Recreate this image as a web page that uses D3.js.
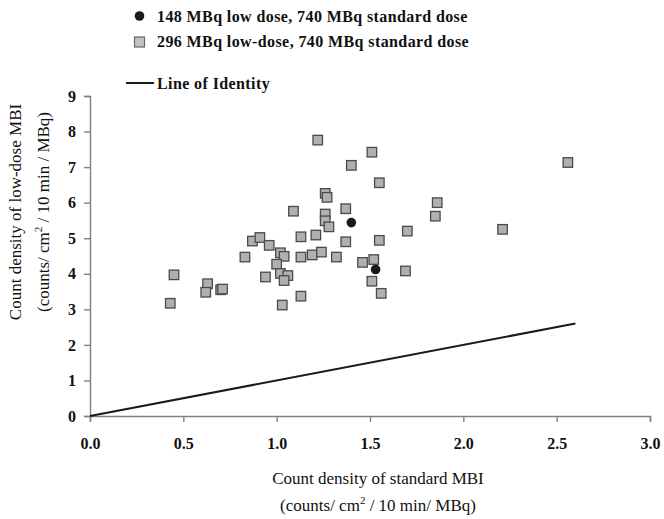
<!DOCTYPE html>
<html><head><meta charset="utf-8">
<script src="https://cdn.jsdelivr.net/npm/d3@7"></script>
<style>body{margin:0;background:#fff}svg{display:block}</style>
</head><body>
<svg id="c" width="664" height="519"></svg>
<script>
// Series 1: 296 MBq low-dose (squares): standard MBI x, low-dose MBI y
const sqX = [1.22,1.40,1.26,1.27,1.09,1.26,1.26,1.28,1.37,1.13,1.21,1.37,0.87,0.91,0.96,0.83,1.02,1.04,1.00,1.13,1.19,1.24,1.32,1.02,1.06,1.04,0.94,1.13,1.03,0.45,0.63,0.62,0.70,0.71,0.43,1.51,1.55,1.86,1.85,1.70,2.21,2.56,1.55,1.46,1.52,1.69,1.51,1.56];
const sqY = [7.76,7.05,6.26,6.15,5.76,5.68,5.49,5.32,5.83,5.04,5.09,4.90,4.92,5.02,4.80,4.47,4.59,4.49,4.27,4.47,4.53,4.61,4.47,4.01,3.95,3.81,3.91,3.37,3.12,3.97,3.72,3.48,3.55,3.57,3.17,7.42,6.56,6.00,5.62,5.20,5.25,7.13,4.94,4.32,4.40,4.08,3.79,3.45];
// Series 2: 148 MBq low dose (circles)
const ciX = [1.40,1.53];
const ciY = [5.44,4.12];
// Line of identity
const idLine = [0, 2.6];
const xTicks = [0,0.5,1.0,1.5,2.0,2.5,3.0];
const yTicks = [0,1,2,3,4,5,6,7,8,9];
const legendLabels = ["148 MBq low dose, 740 MBq standard dose","296 MBq low-dose, 740 MBq standard dose","Line of Identity"];

const svg = d3.select("#c");
const x = d3.scaleLinear().domain([0,3]).range([90,650]);
const y = d3.scaleLinear().domain([0,9]).range([416,96]);
const serif = "'Liberation Serif','Times New Roman',serif";
const axisCol = "#808080";

// axes
const xa = svg.append("g").attr("transform","translate(0,416)")
  .call(d3.axisBottom(x).tickValues(xTicks).tickFormat(d3.format(".1f")).tickSizeOuter(0).tickSize(6).tickPadding(16));
const ya = svg.append("g").attr("transform","translate(90,0)")
  .call(d3.axisLeft(y).tickValues(yTicks).tickFormat(d3.format("d")).tickSizeOuter(0).tickSize(6).tickPadding(8));
[xa,ya].forEach(g=>{
  g.select(".domain").attr("stroke",axisCol).attr("stroke-width",1.4);
  g.selectAll(".tick line").attr("stroke",axisCol).attr("stroke-width",1.4);
  g.selectAll(".tick text").attr("font-family",serif).attr("font-weight","bold").attr("font-size",16).attr("fill","#111");
});

// identity line
svg.append("line").attr("x1",x(idLine[0])).attr("y1",y(idLine[0])).attr("x2",x(idLine[1])).attr("y2",y(idLine[1]))
  .attr("stroke","#1a1a1a").attr("stroke-width",2);

// squares
const s = 9.5;
svg.append("g").selectAll("rect").data(sqX.map((v,i)=>[v,sqY[i]])).join("rect")
  .attr("x",d=>x(d[0])-s/2).attr("y",d=>y(d[1])-s/2).attr("width",s).attr("height",s)
  .attr("fill","#b0b0b0").attr("stroke","#4a4a4a").attr("stroke-width",1.3);
// circles
svg.append("g").selectAll("circle").data(ciX.map((v,i)=>[v,ciY[i]])).join("circle")
  .attr("cx",d=>x(d[0])).attr("cy",d=>y(d[1])).attr("r",4.8).attr("fill","#1a1a1a");

// legend
const lg = svg.append("g");
lg.append("circle").attr("cx",139.5).attr("cy",16).attr("r",4.8).attr("fill","#1a1a1a");
lg.append("rect").attr("x",134.5).attr("y",37).attr("width",10).attr("height",10).attr("fill","#c2c2c2").attr("stroke","#666").attr("stroke-width",1.2);
lg.append("line").attr("x1",126).attr("x2",154).attr("y1",83).attr("y2",83).attr("stroke","#1a1a1a").attr("stroke-width",2);
[21.5,47,88.5].forEach((yy,i)=>{
  lg.append("text").attr("x",157).attr("y",yy).text(legendLabels[i])
    .attr("font-family",serif).attr("font-weight","bold").attr("font-size",16).attr("letter-spacing",0.4).attr("fill","#111");
});

// axis titles
svg.append("text").attr("x",378).attr("y",484).attr("text-anchor","middle")
  .attr("font-family",serif).attr("font-size",17).attr("fill","#111").text("Count density of standard MBI");
const xt2 = svg.append("text").attr("x",378).attr("y",511).attr("text-anchor","middle")
  .attr("font-family",serif).attr("font-size",17).attr("fill","#111");
xt2.append("tspan").text("(counts/ cm");
xt2.append("tspan").attr("font-size",11).attr("dy",-7).text("2");
xt2.append("tspan").attr("dy",7).text(" / 10 min/ MBq)");

svg.append("text").attr("transform","translate(21,212) rotate(-90)").attr("text-anchor","middle")
  .attr("font-family",serif).attr("font-size",17).attr("fill","#111").text("Count density of low-dose MBI");
const yt2 = svg.append("text").attr("transform","translate(49,212) rotate(-90)").attr("text-anchor","middle")
  .attr("font-family",serif).attr("font-size",17).attr("fill","#111");
yt2.append("tspan").text("(counts/ cm");
yt2.append("tspan").attr("font-size",11).attr("dy",-7).text("2");
yt2.append("tspan").attr("dy",7).text(" / 10 min / MBq)");
</script>
</body></html>
